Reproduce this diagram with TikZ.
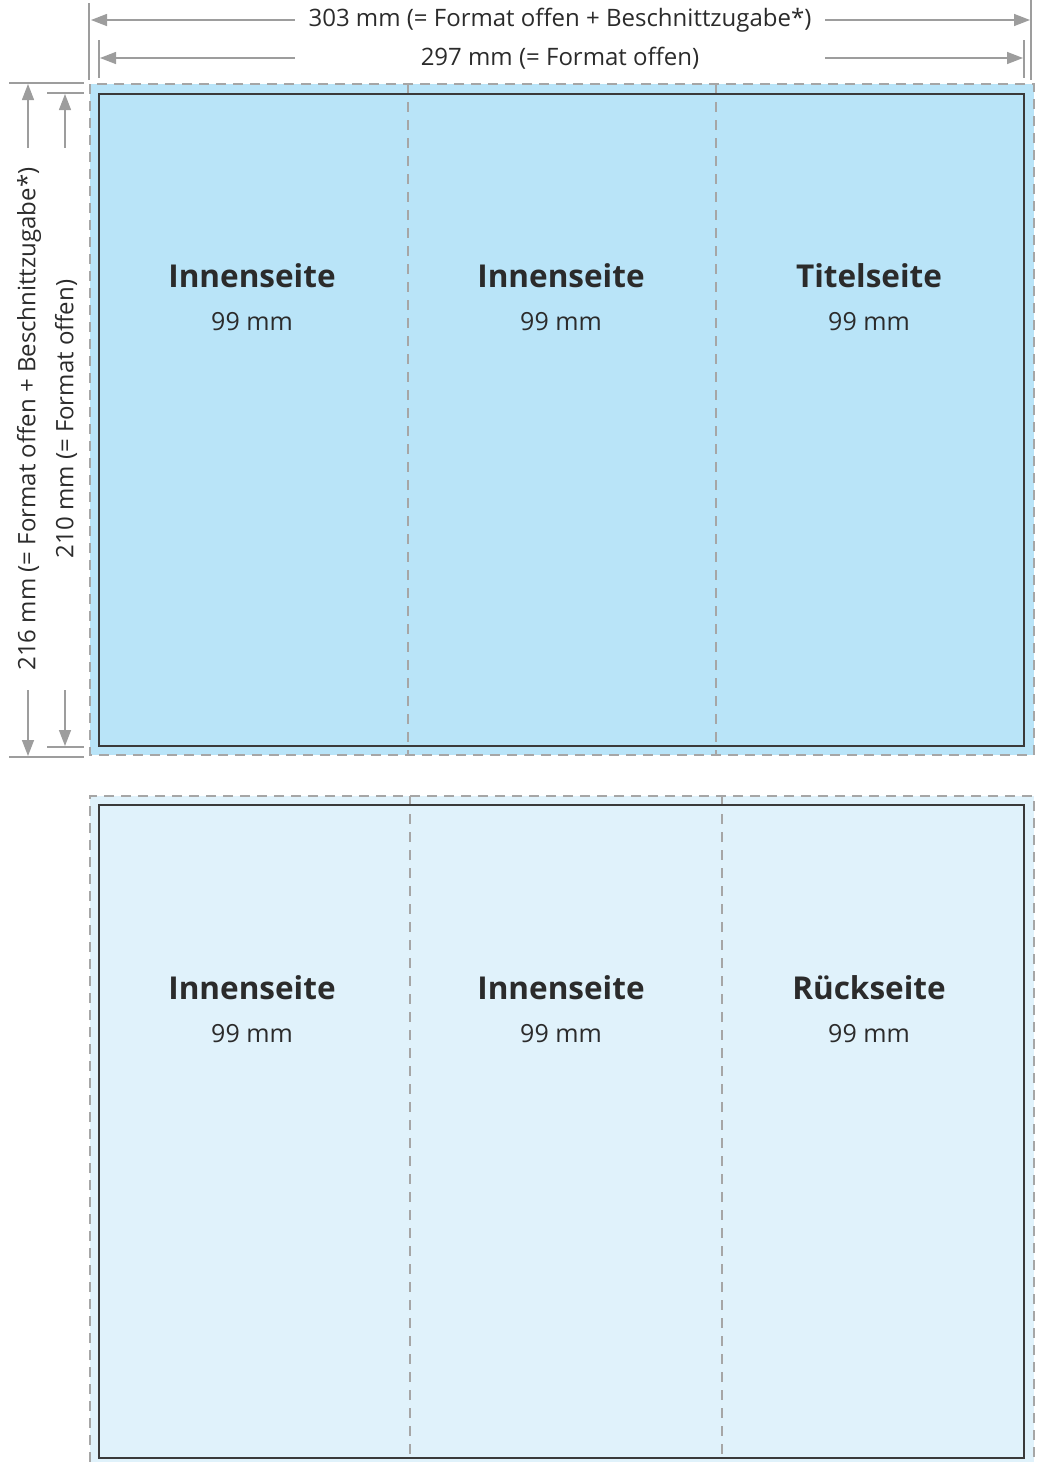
\documentclass[tikz,border=0pt]{standalone}
\usepackage{fontspec}
\setmainfont{Open Sans}
\usetikzlibrary{arrows.meta}

\definecolor{bleedtop}{HTML}{B9E4F8}
\definecolor{bleedbot}{HTML}{E0F2FB}
\definecolor{dimgray}{HTML}{9D9D9D}
\definecolor{cutgray}{HTML}{A6A6A6}
\definecolor{trimgray}{HTML}{3A3A3A}
\definecolor{inkgray}{HTML}{2B2B2B}

\tikzset{
  cutline/.style={cutgray, line width=1.8pt, dash pattern=on 10pt off 7pt},
  foldline/.style={cutgray, line width=1.4pt, dash pattern=on 10pt off 8pt},
  trimline/.style={trimgray, line width=1.5pt},
  extline/.style={dimgray, line width=1.4pt},
  dimarrow/.style={dimgray, line width=1.4pt, -{Triangle[length=16pt,width=12pt]}},
  dimlabel/.style={inkgray, inner sep=0pt, font=\fontsize{24}{28}\selectfont},
  pagetitle/.style={inkgray, anchor=base, font=\fontsize{31.5}{36}\selectfont\bfseries},
  pagesize/.style={inkgray, anchor=base, font=\fontsize{25}{30}\selectfont}
}

\begin{document}
\begin{tikzpicture}[x=1pt, y=-1pt]
\useasboundingbox (0,0) rectangle (1041,1462);

% Vorderseite
\fill[bleedtop] (90,84) rectangle (1034,755);
\draw[cutline] (90,84) rectangle (1034,755);
\foreach \x in {408,716}
  \draw[foldline] (\x,84) -- (\x,755);
\draw[trimline] (99,94) rectangle (1024,746);

% Rueckseite
\fill[bleedbot] (90,796) rectangle (1034,1462);
\draw[cutline] (90,1462) -- (90,796) -- (1034,796) -- (1034,1462);
\foreach \x in {410,722}
  \draw[foldline] (\x,796) -- (\x,1462);
\draw[trimline] (99,805) rectangle (1024,1458);

% Seiten
\foreach \x/\name/\lbl in {252/innenA/Innenseite, 561/innenB/Innenseite, 869/titel/Titelseite}{
  \node[pagetitle] (\name) at (\x,287) {\lbl};
  \node[pagesize] (\name mm) at (\x,330) {99 mm};
}
\foreach \x/\name/\lbl in {252/innenC/Innenseite, 561/innenD/Innenseite, 869/rueck/Rückseite}{
  \node[pagetitle] (\name) at (\x,999) {\lbl};
  \node[pagesize] (\name mm) at (\x,1042) {99 mm};
}

% Breite
\draw[extline] (89,3) -- (89,80);
\draw[extline] (1031,0) -- (1031,80);
\draw[extline] (99,40) -- (99,78);
\draw[extline] (1024,40) -- (1024,78);
\coordinate (wA) at (91,20);
\coordinate (wB) at (1030,20);
\coordinate (wC) at (100,58);
\coordinate (wD) at (1023,58);
\node[dimlabel, minimum width=530pt] (breiteB) at (560,20) {303 mm (= Format offen + Beschnittzugabe*)};
\node[dimlabel, minimum width=530pt] (breiteF) at (560,58) {297 mm (= Format offen)};
\draw[dimarrow] (breiteB.west |- wA) -- (wA);
\draw[dimarrow] (breiteB.east |- wB) -- (wB);
\draw[dimarrow] (breiteF.west |- wC) -- (wC);
\draw[dimarrow] (breiteF.east |- wD) -- (wD);

% Hoehe
\draw[extline] (9,83) -- (84,83);
\draw[extline] (47,93) -- (84,93);
\draw[extline] (47,747) -- (84,747);
\draw[extline] (9,757) -- (84,757);
\coordinate (hA) at (28,84);
\coordinate (hB) at (28,756);
\coordinate (hC) at (65,94);
\coordinate (hD) at (65,746);
\node[dimlabel, rotate=90, minimum width=542pt] (hoeheB) at (29,419) {216 mm (= Format offen + Beschnittzugabe*)};
\node[dimlabel, rotate=90, minimum width=542pt] (hoeheF) at (66,419) {210 mm (= Format offen)};
\draw[dimarrow] (hoeheB.east -| hA) -- (hA);
\draw[dimarrow] (hoeheB.west -| hB) -- (hB);
\draw[dimarrow] (hoeheF.east -| hC) -- (hC);
\draw[dimarrow] (hoeheF.west -| hD) -- (hD);
\end{tikzpicture}
\end{document}
